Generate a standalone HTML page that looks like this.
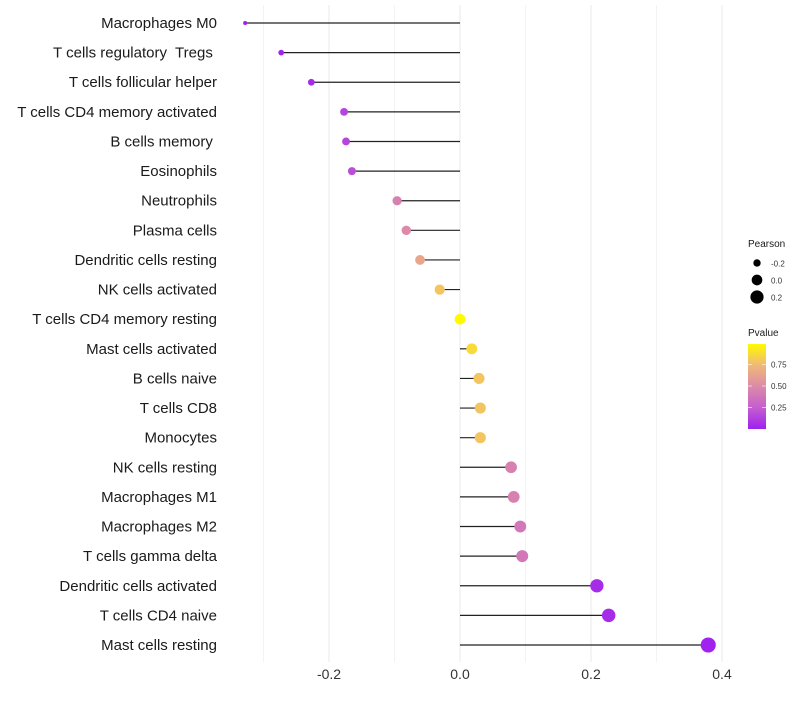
<!DOCTYPE html>
<html><head><meta charset="utf-8"><style>
body{margin:0;background:#fff;font-family:"Liberation Sans",sans-serif}
</style></head><body>
<svg id="c" width="800" height="700" xmlns="http://www.w3.org/2000/svg" font-family="Liberation Sans, sans-serif"></svg>
<script>
const categories=["Macrophages M0","T cells regulatory  Tregs ","T cells follicular helper","T cells CD4 memory activated","B cells memory ","Eosinophils","Neutrophils","Plasma cells","Dendritic cells resting","NK cells activated","T cells CD4 memory resting","Mast cells activated","B cells naive","T cells CD8","Monocytes","NK cells resting","Macrophages M1","Macrophages M2","T cells gamma delta","Dendritic cells activated","T cells CD4 naive","Mast cells resting"];
const pearson=[-0.328,-0.273,-0.227,-0.177,-0.174,-0.165,-0.096,-0.082,-0.061,-0.031,0.0,0.018,0.029,0.031,0.031,0.078,0.082,0.092,0.095,0.209,0.227,0.379];
const pvalue=[0.0,0.02,0.05,0.15,0.15,0.18,0.45,0.5,0.65,0.8,1.0,0.88,0.8,0.8,0.8,0.45,0.45,0.4,0.4,0.05,0.05,0.01];
const xTicks=[-0.2,0.0,0.2,0.4];
const xTickLabels=["-0.2","0.0","0.2","0.4"];
const sizeLegend=[-0.2,0.0,0.2];
const colorTicks=[0.25,0.5,0.75];

const svg=document.getElementById('c');const NS="http://www.w3.org/2000/svg";
function el(t,a,p){const e=document.createElementNS(NS,t);for(const k in a)e.setAttribute(k,a[k]);(p||svg).appendChild(e);return e;}
const xs=v=>460+v*655;
const ys=i=>23+i*(622/21);
const vmin=Math.min(...pearson);
const rs=v=>Math.sqrt(4+75*(v-vmin));
const stops=[[0,[160,32,240]],[0.25,[196,94,208]],[0.5,[220,138,168]],[0.75,[240,184,120]],[1,[255,250,0]]];
function col(p){p=Math.max(0,Math.min(1,p));for(let i=0;i<stops.length-1;i++){const a=stops[i],b=stops[i+1];if(p<=b[0]){const t=(p-a[0])/(b[0]-a[0]);const c=a[1].map((x,j)=>Math.round(x+(b[1][j]-x)*t));return `rgb(${c})`;}}return 'rgb(255,250,0)';}
for(let g=-0.3;g<=0.401;g+=0.1){const l=el('line',{x1:xs(g),x2:xs(g),y1:5,y2:662,stroke:'#ebebeb','stroke-width':Math.abs(Math.round(g*10))%2==0?1.1:0.6});

}
xTicks.forEach((v,i)=>{const t=el('text',{x:xs(v),y:679,'text-anchor':'middle','font-size':14,fill:'#333'});t.textContent=xTickLabels[i];

});
categories.forEach((c,i)=>{const y=ys(i);
const t=el('text',{x:217,y:y+5,'text-anchor':'end','font-size':15,fill:'#1a1a1a'});t.textContent=c;t.style.whiteSpace='pre';


const l=el('line',{x1:xs(0),x2:xs(pearson[i]),y1:y,y2:y,stroke:'#222','stroke-width':1.2});


const d=el('circle',{cx:xs(pearson[i]),cy:y,r:rs(pearson[i]),fill:col(pvalue[i])});

});
let t=el('text',{x:748,y:247,'font-size':10,fill:'#1a1a1a'});t.textContent='Pearson';


sizeLegend.forEach((v,i)=>{const y=263+i*17;const c=el('circle',{cx:757,cy:y,r:rs(v),fill:'#000'});


const tt=el('text',{x:771,y:y+3.5,'font-size':8,fill:'#333'});tt.textContent=v.toFixed(1);

});
t=el('text',{x:748,y:336,'font-size':10,fill:'#1a1a1a'});t.textContent='Pvalue';


const defs=el('defs',{});const lg=el('linearGradient',{id:'g',x1:0,y1:1,x2:0,y2:0},defs);
stops.forEach(s=>el('stop',{offset:s[0],'stop-color':`rgb(${s[1]})`},lg));
const bar=el('rect',{x:748,y:344,width:18,height:85,fill:'url(#g)'});


const py=p=>429-p*86;
colorTicks.forEach(p=>{el('line',{x1:748,x2:752,y1:py(p),y2:py(p),stroke:'#fff','stroke-opacity':0.6});el('line',{x1:762,x2:766,y1:py(p),y2:py(p),stroke:'#fff','stroke-opacity':0.6});
const tt=el('text',{x:771,y:py(p)+3,'font-size':8,fill:'#333'});tt.textContent=p.toFixed(2);

});
</script>
</body></html>
